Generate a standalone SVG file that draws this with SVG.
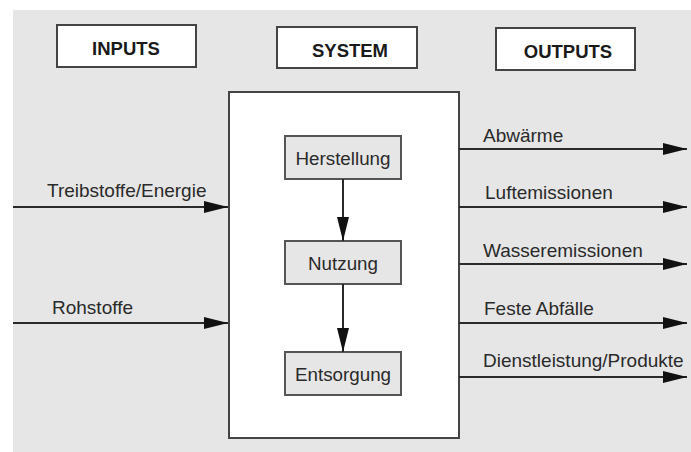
<svg xmlns="http://www.w3.org/2000/svg" width="691" height="452" viewBox="0 0 691 452">
  <style>
    .label { font-family: "Liberation Sans", Arial, sans-serif; font-size: 19px; fill: #2a2a2a; }
    .title { font-family: "Liberation Sans", Arial, sans-serif; font-size: 18.5px; font-weight: bold; fill: #1a1a1a; text-anchor: middle; }
    .hbox { fill: #ffffff; stroke: #444444; stroke-width: 2; }
    .step { fill: #e6e6e6; stroke: #555555; stroke-width: 2; }
    .step-text { font-family: "Liberation Sans", Arial, sans-serif; font-size: 18.8px; fill: #2a2a2a; text-anchor: middle; }
    .flow { stroke: #2a2a2a; stroke-width: 2; fill: none; }
  </style>
  <defs>
    <marker id="arrow-h" markerUnits="userSpaceOnUse" viewBox="0 0 24 12" refX="24" refY="6" markerWidth="24" markerHeight="12" orient="auto">
      <path d="M0,0 L24,6 L0,12 Z" fill="#111111"/>
    </marker>
  </defs>

  <!-- page background -->
  <rect x="0" y="0" width="691" height="452" fill="#ffffff"/>
  <rect x="13" y="10" width="678" height="442" fill="#e6e6e6"/>

  <!-- column headings -->
  <g id="inputs">
    <rect class="hbox" x="57" y="25" width="139" height="42"/>
    <text class="title" x="126" y="55">INPUTS</text>
  </g>
  <g id="system-title">
    <rect class="hbox" x="277" y="27" width="140" height="41"/>
    <text class="title" x="350" y="57">SYSTEM</text>
  </g>
  <g id="outputs">
    <rect class="hbox" x="496" y="28" width="139" height="42"/>
    <text class="title" x="568" y="58">OUTPUTS</text>
  </g>

  <!-- system boundary -->
  <g id="system">
    <rect x="229" y="92" width="230" height="346" fill="#ffffff" stroke="#444444" stroke-width="2"/>
  </g>

  <!-- life-cycle stages -->
  <g id="herstellung">
    <rect class="step" x="285" y="136" width="116" height="43"/>
    <text class="step-text" x="343" y="165">Herstellung</text>
  </g>
  <g id="nutzung">
    <rect class="step" x="285" y="241" width="116" height="43"/>
    <text class="step-text" x="343" y="270">Nutzung</text>
  </g>
  <g id="entsorgung">
    <rect class="step" x="285" y="352" width="116" height="43"/>
    <text class="step-text" x="343" y="381">Entsorgung</text>
  </g>

  <!-- flows -->
  <g id="connectors">
    <line class="flow" x1="343" y1="179" x2="343" y2="241" marker-end="url(#arrow-h)"/>
    <line class="flow" x1="343" y1="284" x2="343" y2="352" marker-end="url(#arrow-h)"/>

    <line class="flow" x1="13" y1="207" x2="228" y2="207" marker-end="url(#arrow-h)"/>
    <line class="flow" x1="13" y1="323" x2="228" y2="323" marker-end="url(#arrow-h)"/>

    <line class="flow" x1="459" y1="149" x2="687" y2="149" marker-end="url(#arrow-h)"/>
    <line class="flow" x1="459" y1="207" x2="687" y2="207" marker-end="url(#arrow-h)"/>
    <line class="flow" x1="459" y1="264" x2="687" y2="264" marker-end="url(#arrow-h)"/>
    <line class="flow" x1="459" y1="323" x2="687" y2="323" marker-end="url(#arrow-h)"/>
    <line class="flow" x1="459" y1="377" x2="687" y2="377" marker-end="url(#arrow-h)"/>
  </g>

  <!-- flow labels -->
  <g id="flow-labels">
    <text class="label" x="47" y="197">Treibstoffe/Energie</text>
    <text class="label" x="52" y="314">Rohstoffe</text>
    <text class="label" x="483" y="142">Abwärme</text>
    <text class="label" x="485" y="199">Luftemissionen</text>
    <text class="label" x="483" y="257">Wasseremissionen</text>
    <text class="label" x="484" y="315">Feste Abfälle</text>
    <text class="label" x="483" y="367">Dienstleistung/Produkte</text>
  </g>
</svg>
